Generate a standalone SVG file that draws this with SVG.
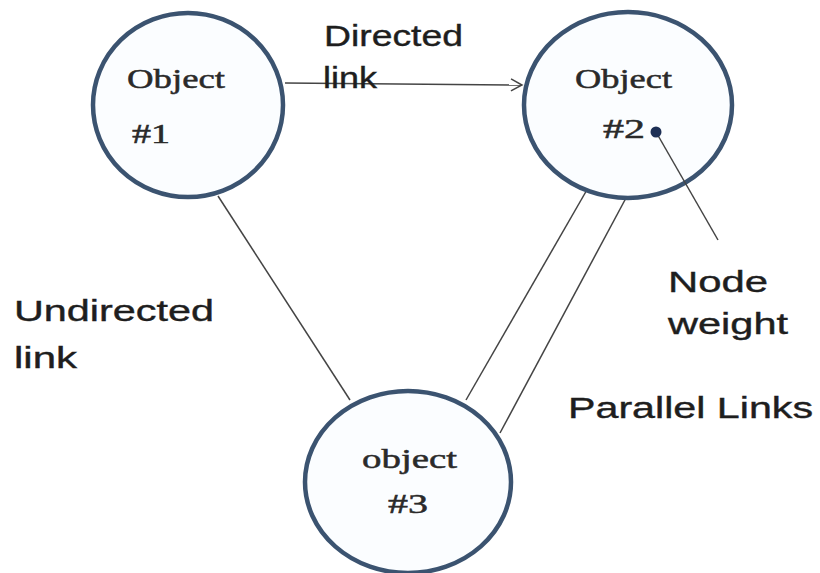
<svg xmlns="http://www.w3.org/2000/svg" width="820" height="573" viewBox="0 0 820 573">
<style>
.node{fill:#fbfdff;stroke:#3b5370;stroke-width:4.5}
.lk{stroke:#444;stroke-width:1.5;fill:none}
.lbl{font-family:"Liberation Sans",Arial,sans-serif;fill:#1e1e1e;stroke:#1e1e1e;stroke-width:0.4;font-size:30px}
.obj{font-family:"Liberation Serif","DejaVu Serif",serif;fill:#2a2a2a;stroke:#2a2a2a;stroke-width:0.5;font-size:28px}
</style>
<defs>
<marker id="open" markerWidth="14" markerHeight="14" refX="12" refY="7" orient="auto" markerUnits="userSpaceOnUse">
<path d="M1,1 L12,7 L1,13" fill="none" stroke="#444" stroke-width="1.5"/>
</marker>
</defs>
<rect width="820" height="573" fill="#fff"/>
<g id="connectors">
<line class="lk" x1="285" y1="83" x2="522" y2="85" marker-end="url(#open)"/>
<line class="lk" x1="218" y1="196" x2="350" y2="400"/>
<line class="lk" x1="588" y1="188" x2="466" y2="400"/>
<line class="lk" x1="626" y1="198" x2="500" y2="433"/>
</g>
<g id="object1">
<ellipse class="node" cx="188" cy="105" rx="95" ry="92"/>
<text class="obj" x="127" y="88" textLength="98" lengthAdjust="spacingAndGlyphs">Object</text>
<text class="obj" x="132" y="143" textLength="38" lengthAdjust="spacingAndGlyphs">#1</text>
</g>
<g id="object2">
<ellipse class="node" cx="628" cy="105" rx="104" ry="93"/>
<text class="obj" x="575" y="88" textLength="97" lengthAdjust="spacingAndGlyphs">Object</text>
<text class="obj" x="603" y="138" font-size="30" textLength="42" lengthAdjust="spacingAndGlyphs">#2</text>
</g>
<g id="object3">
<ellipse class="node" cx="408" cy="482" rx="103" ry="91"/>
<text class="obj" x="362" y="468" textLength="95" lengthAdjust="spacingAndGlyphs">object</text>
<text class="obj" x="388" y="513" textLength="40" lengthAdjust="spacingAndGlyphs">#3</text>
</g>
<g id="node-weight">
<line class="lk" x1="656" y1="132" x2="718" y2="240"/>
<circle cx="656" cy="132" r="5.5" fill="#1d2f55"/>
</g>
<g id="labels">
<text class="lbl" x="324" y="46" textLength="139" lengthAdjust="spacingAndGlyphs">Directed</text>
<text class="lbl" x="323" y="88" textLength="54" lengthAdjust="spacingAndGlyphs">link</text>
<text class="lbl" x="14" y="321" font-size="31" textLength="200" lengthAdjust="spacingAndGlyphs">Undirected</text>
<text class="lbl" x="14" y="368" font-size="31" textLength="63" lengthAdjust="spacingAndGlyphs">link</text>
<text class="lbl" x="668" y="292" font-size="31" textLength="100" lengthAdjust="spacingAndGlyphs">Node</text>
<text class="lbl" x="668" y="334" font-size="31" textLength="120" lengthAdjust="spacingAndGlyphs">weight</text>
<text class="lbl" x="568" y="418" textLength="245" lengthAdjust="spacingAndGlyphs">Parallel Links</text>
</g>
</svg>
